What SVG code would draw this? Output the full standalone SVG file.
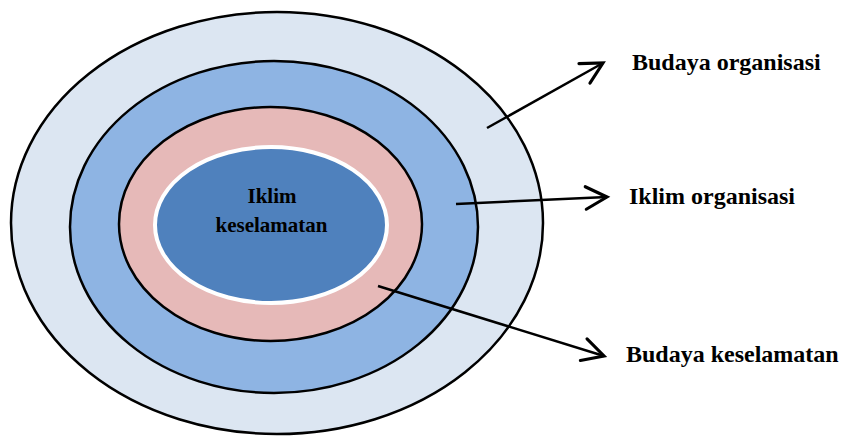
<svg xmlns="http://www.w3.org/2000/svg" width="842" height="437" viewBox="0 0 842 437">
<style>
.ring{stroke:#000;stroke-width:2.5}
.lbl{font-family:"Liberation Serif","Times New Roman",serif;font-weight:bold;font-size:24px;fill:#000}
.ctr{font-family:"Liberation Serif","Times New Roman",serif;font-weight:bold;font-size:21px;fill:#000;text-anchor:middle}
.conn{stroke:#000;stroke-width:2.5;fill:none;marker-end:url(#arr)}
</style>
<defs>
<marker id="arr" markerUnits="userSpaceOnUse" markerWidth="30" markerHeight="30" viewBox="-20 -12 24 24" refX="0" refY="0" orient="auto">
<path d="M-17,-9 L0,0 L-17,9" fill="none" stroke="#000" stroke-width="2.5" stroke-linecap="round" stroke-linejoin="miter"/>
</marker>
</defs>
<rect width="842" height="437" fill="#fff"/>
<g id="budaya-organisasi-ring"><ellipse class="ring" cx="277" cy="223" rx="266" ry="211" fill="#DCE6F2"/></g>
<g id="iklim-organisasi-ring"><ellipse class="ring" cx="274" cy="227" rx="204" ry="166" fill="#8EB4E3"/></g>
<g id="budaya-keselamatan-ring"><ellipse class="ring" cx="270.5" cy="224" rx="151.5" ry="117" fill="#E6B9B8"/></g>
<g id="iklim-keselamatan">
<ellipse cx="271" cy="225" rx="116" ry="78" fill="#4F81BD" stroke="#fff" stroke-width="4"/>
<text class="ctr" x="272" y="203">Iklim</text>
<text class="ctr" x="271.5" y="232">keselamatan</text>
</g>
<g id="connectors">
<line class="conn" x1="487" y1="128" x2="603" y2="63"/>
<line class="conn" x1="456" y1="204" x2="607" y2="197"/>
<line class="conn" x1="378" y1="286" x2="604" y2="356"/>
</g>
<g id="label-budaya-organisasi"><text class="lbl" x="632" y="70">Budaya organisasi</text></g>
<g id="label-iklim-organisasi"><text class="lbl" x="629" y="204">Iklim organisasi</text></g>
<g id="label-budaya-keselamatan"><text class="lbl" x="626" y="362">Budaya keselamatan</text></g>
</svg>
